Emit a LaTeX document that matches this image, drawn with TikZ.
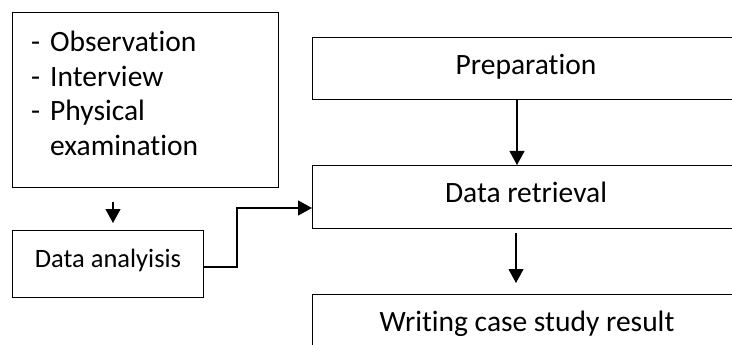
\documentclass[tikz,border=0pt]{standalone}
\usepackage{fontspec}
\setmainfont[Ligatures={NoCommon}]{Carlito}
\usetikzlibrary{arrows.meta}
\begin{document}
\begin{tikzpicture}[x=1pt,y=-1pt,
  box/.style={draw, line width=1.2pt, rectangle, inner sep=0pt, anchor=north west},
  lbl/.style={anchor=base, inner sep=0pt, font=\fontsize{29.5}{35}\selectfont},
  item/.style={anchor=base west, inner sep=0pt, font=\fontsize{29.5}{35}\selectfont},
  small/.style={anchor=base, inner sep=0pt, font=\fontsize{26.5}{31}\selectfont},
  flow/.style={line width=1.1pt, -{Triangle[width=15pt,length=14pt]}}]
\useasboundingbox (0,0) rectangle (732,345);
\clip (0,0) rectangle (732,345);

% boxes
\node[box, minimum width=266pt, minimum height=175pt] (obs) at (12,12) {};
\node[box, minimum width=191pt, minimum height=67pt] (ana) at (12,230) {};
\node[box, minimum width=428pt, minimum height=62pt] (prep) at (312,37) {};
\node[box, minimum width=428pt, minimum height=63pt] (ret) at (312,165) {};
\node[box, minimum width=428pt, minimum height=63pt] (write) at (312,294) {};

% list of data collection methods
\node[item] (d1) at (31,52) {-};
\node[item] (t1) at (50,52) {Observation};
\node[item] (d2) at (31,86.5) {-};
\node[item] (t2) at (50,86.5) {Interview};
\node[item] (d3) at (31,121) {-};
\node[item] (t3) at (50,121) {Physical};
\node[item] (t4) at (50,156) {examination};

% box labels
\node[small] (lana) at (108,267) {Data analyisis};
\node[lbl] (lprep) at (526,75) {Preparation};
\node[lbl] (lret) at (526,202.5) {Data retrieval};
\node[lbl] (lwrite) at (527,331) {Writing case study result};

% connectors
\coordinate (c1) at (113,0);
\coordinate (c2) at (517,0);
\coordinate (c3) at (516,0);
\coordinate (k1) at (237,267);
\coordinate (k2) at (237,208);
\draw[flow, shorten <=14pt, shorten >=7pt] (obs.south -| c1) -- (ana.north -| c1);
\draw[flow] (prep.south -| c2) -- (ret.north -| c2);
\draw[flow, shorten <=4pt, shorten >=11pt] (ret.south -| c3) -- (write.north -| c3);
\draw[flow] (ana.east |- k1) -- (k1) -- (k2) -- (ret.west |- k2);
\end{tikzpicture}
\end{document}
